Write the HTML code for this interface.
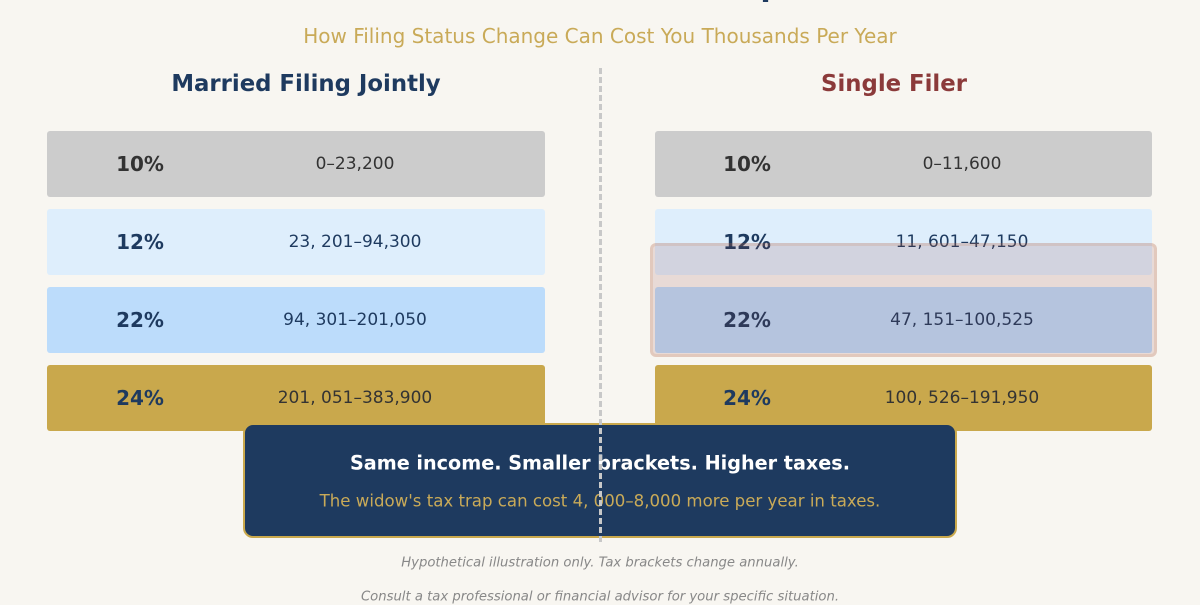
<!DOCTYPE html>
<html><head><meta charset="utf-8"><style>
html,body{margin:0;padding:0;}
body{width:1200px;height:600px;background:#f8f6f1;position:relative;overflow:hidden;font-family:"DejaVu Sans","Liberation Sans",sans-serif;}
.t{position:absolute;white-space:nowrap;transform:translate(-50%,-50%);}
.bar{position:absolute;border-radius:3px;}
</style></head><body>
<div class="t" style="left:600px;top:-14px;font-size:30px;font-weight:bold;color:#1e3a5f;">The Widow's Tax Trap</div>
<div class="t" style="left:600px;top:36px;font-size:20px;color:#c9aa58;">How Filing Status Change Can Cost You Thousands Per Year</div>
<div class="t" style="left:306px;top:84px;font-size:22.8px;font-weight:bold;color:#1e3a5f;">Married Filing Jointly</div>
<div class="t" style="left:894px;top:84px;font-size:22.8px;font-weight:bold;color:#8b3a3a;">Single Filer</div>

<div class="bar" style="left:47px;top:131px;width:498px;height:66px;background:#cccccc;"></div>
<div class="bar" style="left:47px;top:209px;width:498px;height:66px;background:#deeefc;"></div>
<div class="bar" style="left:47px;top:287px;width:498px;height:66px;background:#bcdcfb;"></div>
<div class="bar" style="left:47px;top:365px;width:498px;height:66px;background:#c9a84c;"></div>
<div class="bar" style="left:655px;top:131px;width:497px;height:66px;background:#cccccc;"></div>
<div class="bar" style="left:655px;top:209px;width:497px;height:66px;background:#deeefc;"></div>
<div class="bar" style="left:655px;top:287px;width:497px;height:66px;background:#bcdcfb;"></div>
<div class="bar" style="left:655px;top:365px;width:497px;height:66px;background:#c9a84c;"></div>

<div class="t" style="left:140px;top:164px;font-size:20px;font-weight:bold;color:#333;">10%</div>
<div class="t" style="left:355px;top:164px;font-size:17px;color:#333;">0–23,200</div>
<div class="t" style="left:140px;top:242px;font-size:20px;font-weight:bold;color:#1e3a5f;">12%</div>
<div class="t" style="left:355px;top:242px;font-size:17px;color:#1e3a5f;">23, 201–94,300</div>
<div class="t" style="left:140px;top:320px;font-size:20px;font-weight:bold;color:#1e3a5f;">22%</div>
<div class="t" style="left:355px;top:320px;font-size:17px;color:#1e3a5f;">94, 301–201,050</div>
<div class="t" style="left:140px;top:398px;font-size:20px;font-weight:bold;color:#1e3a5f;">24%</div>
<div class="t" style="left:355px;top:398px;font-size:17px;color:#333;">201, 051–383,900</div>

<div class="t" style="left:747px;top:164px;font-size:20px;font-weight:bold;color:#333;">10%</div>
<div class="t" style="left:962px;top:164px;font-size:17px;color:#333;">0–11,600</div>
<div class="t" style="left:747px;top:242px;font-size:20px;font-weight:bold;color:#1e3a5f;">12%</div>
<div class="t" style="left:962px;top:242px;font-size:17px;color:#1e3a5f;">11, 601–47,150</div>
<div class="t" style="left:747px;top:320px;font-size:20px;font-weight:bold;color:#1e3a5f;">22%</div>
<div class="t" style="left:962px;top:320px;font-size:17px;color:#1e3a5f;">47, 151–100,525</div>
<div class="t" style="left:747px;top:398px;font-size:20px;font-weight:bold;color:#1e3a5f;">24%</div>
<div class="t" style="left:962px;top:398px;font-size:17px;color:#333;">100, 526–191,950</div>

<div style="position:absolute;left:650px;top:243px;width:501px;height:108px;border:3px solid rgba(200,120,80,0.18);border-radius:6px;background:rgba(139,58,58,0.15);"></div>

<div style="position:absolute;left:243px;top:423px;width:710px;height:111px;background:#1e3a5f;border:2px solid #c9a84c;border-radius:10px;"></div>
<div class="t" style="left:600px;top:463px;font-size:19.2px;font-weight:bold;color:#fff;">Same income. Smaller brackets. Higher taxes.</div>
<div class="t" style="left:600px;top:501px;font-size:16.6px;color:#c9aa58;">The widow's tax trap can cost 4, 000–8,000 more per year in taxes.</div>

<div style="position:absolute;left:599px;top:68px;width:0;height:474px;border-left:3px dashed #c8c8c8;"></div>

<div class="t" style="left:600px;top:563px;font-size:13.2px;font-style:italic;color:#888;">Hypothetical illustration only. Tax brackets change annually.</div>
<div class="t" style="left:600px;top:597px;font-size:13.2px;font-style:italic;color:#888;">Consult a tax professional or financial advisor for your specific situation.</div>
</body></html>
